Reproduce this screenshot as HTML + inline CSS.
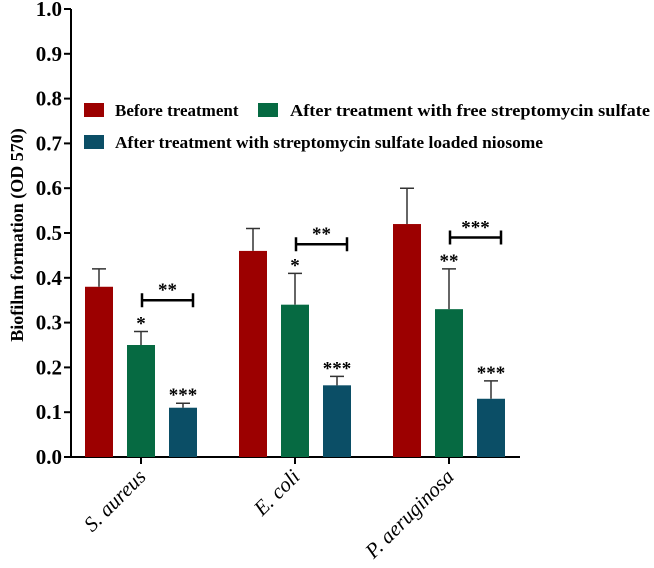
<!DOCTYPE html>
<html><head><meta charset="utf-8"><style>
body{margin:0;background:#fff}
svg{font-family:"Liberation Serif","DejaVu Serif",serif;font-weight:bold}
</style></head><body>
<svg width="654" height="563" font-family="Liberation Serif, DejaVu Serif, serif">
<g id="axes"></g><g id="bars"></g>
<text transform="translate(23,235) rotate(-90)" text-anchor="middle" font-size="18">Biofilm formation (OD 570)</text>
<g font-size="17">
<rect x="84" y="103" width="20" height="14" fill="#9c0000"/>
<text x="115" y="116">Before treatment</text>
<rect x="258" y="103" width="20" height="14" fill="#066a42"/>
<text x="290" y="116" textLength="360" lengthAdjust="spacingAndGlyphs">After treatment with free streptomycin sulfate</text>
<rect x="84" y="135" width="20" height="14" fill="#0b4e66"/>
<text x="115" y="148" textLength="428" lengthAdjust="spacingAndGlyphs">After treatment with streptomycin sulfate loaded niosome</text>
</g>
</svg>
<script>
const categories=["S. aureus","E. coli","P. aeruginosa"];
const before=[0.38,0.46,0.52];
const beforeErr=[0.04,0.05,0.08];
const free=[0.25,0.34,0.33];
const freeErr=[0.03,0.07,0.09];
const nio=[0.11,0.16,0.13];
const nioErr=[0.01,0.02,0.04];
const freeStars=["*","*","**"];
const nioStars=["***","***","***"];
const bracketY=[0.35,0.475,0.49];
const bracketStars=["**","**","***"];
const yTicks=[0,0.1,0.2,0.3,0.4,0.5,0.6,0.7,0.8,0.9,1.0];
const NS="http://www.w3.org/2000/svg";
const y=v=>457-v*448;
const xc=i=>141+i*154;
const svg=document.querySelector('svg');
const ax=document.getElementById('axes'),bg=document.getElementById('bars');
function mk(p,t,a){const e=document.createElementNS(NS,t);for(const k in a)e.setAttribute(k,a[k]);p.appendChild(e);return e;}
let l=mk(ax,'line',{x1:71,y1:y(1),x2:71,y2:458,stroke:'#000','stroke-width':2});


l=mk(ax,'line',{x1:70,y1:457,x2:520,y2:457,stroke:'#000','stroke-width':2});


yTicks.forEach(v=>{
 const t=mk(ax,'line',{x1:64,x2:71,y1:y(v),y2:y(v),stroke:'#000','stroke-width':2});
 
 
 const tx=mk(ax,'text',{x:62,y:y(v)+7,'text-anchor':'end','font-size':21});
 tx.textContent=v.toFixed(1);
 
 
});
const colors=["#9c0000","#066a42","#0b4e66"];
const series=[[before,beforeErr],[free,freeErr],[nio,nioErr]];
categories.forEach((c,i)=>{
 const t=mk(ax,'line',{x1:xc(i),x2:xc(i),y1:457,y2:464,stroke:'#000','stroke-width':2});
 
 
 const lab=mk(ax,'text',{transform:`translate(${xc(i)+6},478) rotate(-45)`,'text-anchor':'end','font-size':21,'font-style':'italic','font-weight':'normal'});
 lab.textContent=c;
 
 
 series.forEach((s,j)=>{
  const cx=xc(i)+(j-1)*42, v=s[0][i], e=s[1][i];
  const r=mk(bg,'rect',{x:cx-14,y:y(v),width:28,height:457-y(v),fill:colors[j]});
  
  
  const eb=mk(bg,'path',{d:`M${cx},${y(v)}V${y(v+e)}M${cx-7},${y(v+e)}H${cx+7}`,stroke:'#333','stroke-width':1.5,fill:'none'});
  
  
  if(j>0){
   const st=mk(bg,'text',{x:cx,y:y(v+e)-2,'text-anchor':'middle','font-size':19});
   st.textContent=(j==1?freeStars:nioStars)[i];
   
   
  }
 });
 const bx1=xc(i)+1,bx2=xc(i)+52,by=y(bracketY[i]);
 const br=mk(bg,'path',{d:`M${bx1},${by-7}V${by+7}M${bx1},${by}H${bx2}M${bx2},${by-7}V${by+7}`,stroke:'#000','stroke-width':2.5,fill:'none'});
 
 
 const bs=mk(bg,'text',{x:(bx1+bx2)/2,y:by-4,'text-anchor':'middle','font-size':19});
 bs.textContent=bracketStars[i];
 
 
});
</script>
</body></html>
